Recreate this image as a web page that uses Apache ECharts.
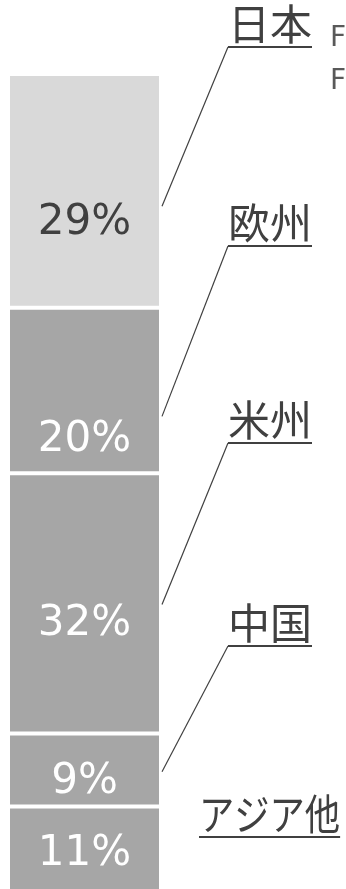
<!DOCTYPE html>
<html>
<head>
<meta charset="utf-8">
<script src="https://cdn.jsdelivr.net/npm/echarts@6/dist/echarts.min.js"></script>
<style>
html,body{margin:0;padding:0;background:#fff;}
#chart{width:346px;height:889px;}
</style>
</head>
<body>
<div id="chart"></div>
<script>
// Data (bottom to top of the stacked bar)
const categories = ['アジア他', '中国', '米州', '欧州', '日本'];
const values = [10.9, 9.0, 32.1, 20.4, 28.8];
const percentLabels = ['11%', '9%', '32%', '20%', '29%'];
// value (on the stacked axis) where each leader line meets the bar
const leaderValues = [null, 15.2, 35.8, 59.0, 84.9];
const sideNotes = ['FY2019', 'FY2018'];

// Styles / layout
const GRID_LEFT = 8, GRID_WIDTH = 153, GRID_TOP = 74, GRID_HEIGHT = 821;
const segColors = ['#a6a6a6', '#a6a6a6', '#a6a6a6', '#a6a6a6', '#d9d9d9'];
const labelColors = ['#ffffff', '#ffffff', '#ffffff', '#ffffff', '#404040'];
const labelOffsets = [3, 12, 21, 50, 32];
const catLabelX = [199, 228, 228, 228, 228];
const catUnderlineY = [837, 646, 443, 246, 47];
const catScaleX = [0.84, 1, 1, 1, 1];
const TEXT = '#404040';
const CJK = '"Noto Sans CJK JP", "Noto Sans CJK SC", sans-serif';
const CAT_FONT_SIZE = 42;

const total = values.reduce((a, b) => a + b, 0);

const chart = echarts.init(document.getElementById('chart'), null, {renderer: 'canvas'});

const series = values.map((v, i) => ({
  name: categories[i],
  type: 'bar',
  stack: 'total',
  barWidth: '100%',
  data: [v],
  itemStyle: {color: segColors[i], borderColor: '#ffffff', borderWidth: 2},
  label: {
    show: true,
    position: 'inside',
    offset: [0, labelOffsets[i]],
    formatter: percentLabels[i],
    color: labelColors[i],
    fontFamily: '"DejaVu Sans", Verdana, sans-serif',
    fontSize: 42
  },
  emphasis: {disabled: true},
  silent: true,
  animation: false
}));

chart.setOption({
  animation: false,
  grid: {left: GRID_LEFT, width: GRID_WIDTH, top: GRID_TOP, height: GRID_HEIGHT, containLabel: false, outerBoundsMode: 'none'},
  xAxis: {type: 'category', data: ['share'], show: false},
  yAxis: {type: 'value', min: 0, max: total, show: false, splitLine: {show: false}},
  series: series
});

// Annotations: category labels with underline and leader lines
const ctx = document.createElement('canvas').getContext('2d');
ctx.font = CAT_FONT_SIZE + 'px ' + CJK;
const graphics = [];
const barRight = GRID_LEFT + GRID_WIDTH + 1;
categories.forEach((c, i) => {
  const x = catLabelX[i];
  const uy = catUnderlineY[i];
  const w = ctx.measureText(c).width * catScaleX[i];
  graphics.push({
    type: 'text',
    x: x, y: uy - 2,
    scaleX: catScaleX[i],
    silent: true,
    style: {
      text: c, x: 0, y: 0,
      fill: TEXT,
      font: CAT_FONT_SIZE + 'px ' + CJK,
      textAlign: 'left',
      textVerticalAlign: 'bottom'
    }
  });
  graphics.push({
    type: 'line', silent: true,
    shape: {x1: x, y1: uy, x2: x + w, y2: uy},
    style: {stroke: TEXT, lineWidth: 2}
  });
  if (leaderValues[i] != null) {
    const p = chart.convertToPixel({gridIndex: 0}, [0, leaderValues[i]]);
    graphics.push({
      type: 'line', silent: true,
      shape: {x1: x, y1: uy, x2: barRight, y2: p[1]},
      style: {stroke: TEXT, lineWidth: 1.2}
    });
  }
});
sideNotes.forEach((t, i) => {
  graphics.push({
    type: 'text', silent: true,
    x: 330, y: 39 + i * 43,
    style: {
      text: t, x: 0, y: 0, fill: '#595959',
      font: '28px "DejaVu Sans", sans-serif',
      textAlign: 'left', textVerticalAlign: 'middle'
    }
  });
});
chart.setOption({graphic: graphics});
</script>
</body>
</html>
